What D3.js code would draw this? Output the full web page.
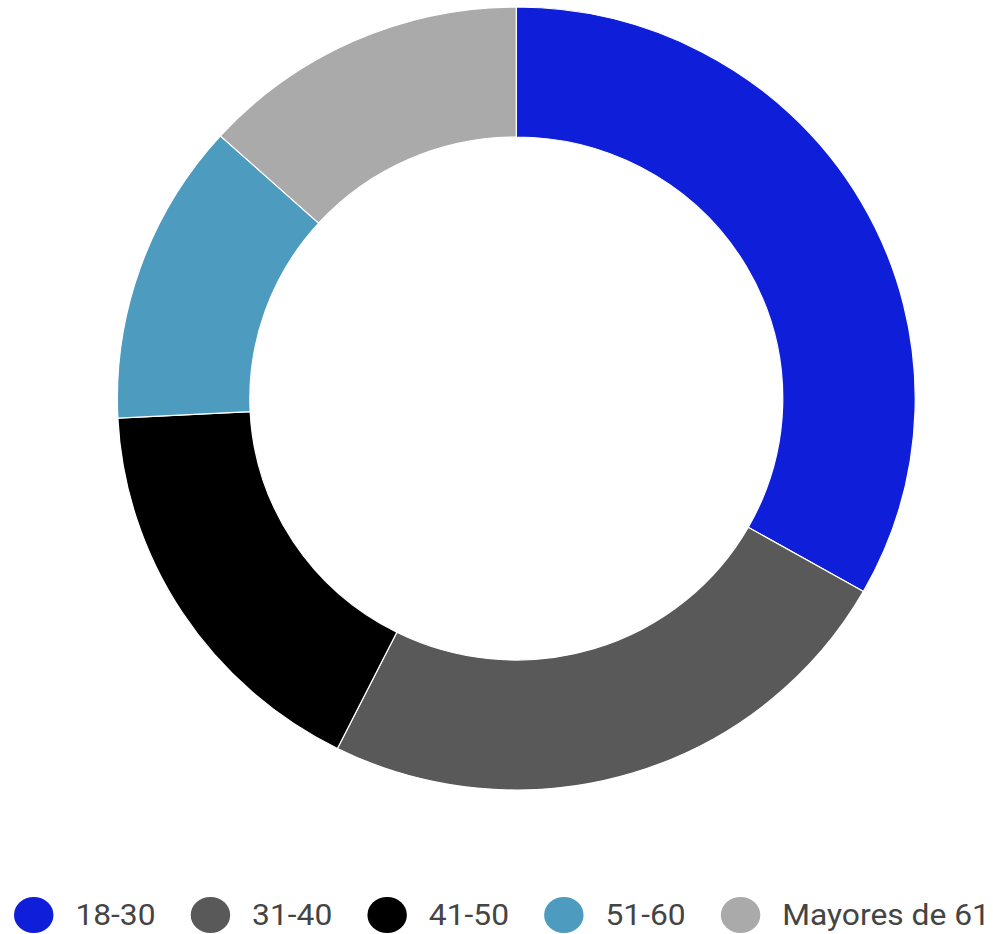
<!DOCTYPE html>
<html>
<head>
<meta charset="utf-8">
<script src="https://cdn.jsdelivr.net/npm/d3@7"></script>
<style>
  html, body { margin: 0; padding: 0; background: #fff; }
  svg { display: block; }
</style>
</head>
<body>
<div id="container"></div>
<script>
// age groups and their share (%)
let categories = ["18-30", "31-40", "41-50", "51-60", "Mayores de 61"];
let values = [33.2, 24.2, 16.8, 12.5, 13.3];
let colors = ["#0f1fd9", "#595959", "#000000", "#4d9bbf", "#aaaaaa"];

let width = 993;
let height = 934;

let svg = d3.select('#container')
    .append('svg')
    .attr("width", width)
    .attr("height", height);

let pie = d3.pie().sort(null).value(d => d.value);
let arc = d3.arc().innerRadius(261.5).outerRadius(391.5);

let dataArray = categories.map((c, i) => ({ name: c, value: values[i], color: colors[i] }));

let donut = svg.append('g')
    .attr("transform", "translate(516.3,398.5) scale(1.019,1)");

donut.selectAll('path')
    .data(pie(dataArray))
    .enter()
    .append('path')
    .attr('d', arc)
    .attr('fill', d => d.data.color)
    .attr('stroke', '#fff')
    .attr('stroke-width', 1.2);

// legend, laid out naturally then stretched to fit the row
let legend = svg.append('g');
let x = 0;
dataArray.forEach(d => {
    let item = legend.append('g');
    item.append('circle')
        .attr('cx', x + 18)
        .attr('cy', 0)
        .attr('r', 18)
        .attr('fill', d.color);
    let t = item.append('text')
        .attr('x', x + 56)
        .attr('y', 0)
        .attr('dy', '0.36em')
        .attr('font-family', 'Roboto, sans-serif')
        .attr('font-size', 29)
        .attr('fill', '#444')
        .text(d.name);
    x += 56 + t.node().getComputedTextLength() + 32;
});
let natural = x - 32;
let sx = (990 - 14) / natural;
legend.attr("transform", `translate(14,915) scale(${sx},1)`);
</script>
</body>
</html>
